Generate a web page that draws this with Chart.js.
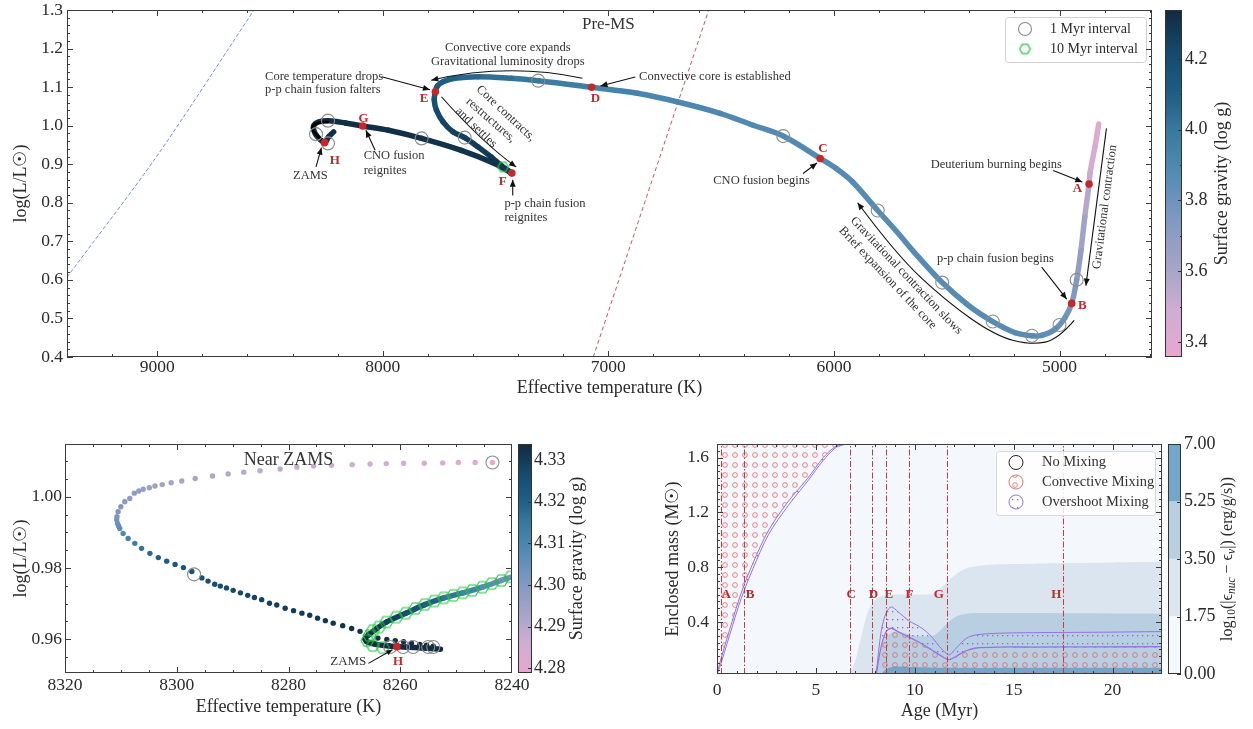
<!DOCTYPE html>
<html><head><meta charset="utf-8">
<script src="https://cdn.jsdelivr.net/npm/chart.js@4.4.1/dist/chart.umd.min.js"></script>
<style>
html,body{margin:0;padding:0;background:#fff;}
body{width:1253px;height:729px;position:relative;overflow:hidden;}
canvas{position:absolute;}
</style></head><body>
<canvas id="cTop" width="1160" height="400" style="left:0;top:0"></canvas>
<canvas id="cTopCb" width="88" height="400" style="left:1165px;top:0"></canvas>
<canvas id="cBl" width="530" height="329" style="left:0;top:400px"></canvas>
<canvas id="cBlCb" width="100" height="329" style="left:518px;top:400px"></canvas>
<canvas id="cBr" width="523" height="329" style="left:640px;top:400px"></canvas>
<canvas id="cBrCb" width="85" height="329" style="left:1168px;top:400px"></canvas>
<script>
// ================= DATA =================
// --- Top panel: pre-main-sequence track (Teff, log L, log g) ---
const trackTeff = [4826,4843,4865,4869,4888,4905,4924,4946,4976,5020,5079,5122,5196,5296,5402,5520,5637,5726,5806,5917,5990,6061,6225,6358,6505,6696,6872,7074,7311,7431,7578,7681,7733,7758,7767,7772,7762,7733,7689,7637,7578,7520,7476,7428,7505,7652,7828,7975,8089,8166,8240,8284,8306,8306,8292,8258,8240,8218];
const trackLogL = [1.004,0.945,0.876,0.8485,0.763,0.676,0.600,0.539,0.502,0.472,0.456,0.455,0.463,0.492,0.533,0.593,0.667,0.728,0.780,0.854,0.889,0.915,0.973,1.001,1.032,1.062,1.084,1.0995,1.1167,1.123,1.127,1.123,1.114,1.103,1.088,1.0665,1.040,1.010,0.984,0.969,0.945,0.919,0.897,0.877,0.902,0.936,0.967,0.988,0.999,1.007,1.0126,1.010,1.001,0.988,0.973,0.956,0.971,0.984];
const trackLogg = [3.36,3.42,3.50,3.53,3.60,3.66,3.72,3.76,3.80,3.83,3.85,3.86,3.87,3.87,3.87,3.87,3.87,3.87,3.87,3.87,3.88,3.88,3.88,3.88,3.89,3.90,3.92,3.95,3.99,4.02,4.05,4.08,4.10,4.12,4.14,4.17,4.20,4.23,4.25,4.26,4.27,4.28,4.29,4.30,4.30,4.31,4.31,4.32,4.32,4.33,4.33,4.33,4.33,4.33,4.33,4.33,4.32,4.31];
const myrTeff = [4924,5000,5122,5296,5520,5806,6225,7311,7637,7828,8243,8296,8243];
const myrLogL = [0.600,0.483,0.455,0.492,0.593,0.780,0.973,1.1167,0.969,0.967,1.013,0.978,0.954];
const tenMyrTeff = [7467];
const tenMyrLogL = [0.893];
const eventNames = ['A','B','C','D','E','F','G','H'];
const eventTeff = [4869,4946,6061,7074,7767,7428,8089,8258];
const eventLogL = [0.8485,0.539,0.915,1.0995,1.088,0.877,0.999,0.956];
const blueLineTeff = [9400,9004,8571];
const blueLineLogL = [0.607,0.919,1.300];
const redLineTeff = [7067,6811,6555];
const redLineLogL = [0.400,0.850,1.300];

// --- Bottom-left panel: near ZAMS model points ---
const zamsTeff = [8243.5,8246.6,8249.6,8252.4,8255.7,8259.4,8262.5,8265.4,8268.6,8272.3,8275.5,8278.5,8281.5,8285.1,8288.0,8290.8,8293.6,8296.7,8299.1,8301.0,8302.6,8303.9,8304.9,8306.0,8306.8,8307.6,
 8308.4,8309.3,8310.0,8310.5,8310.7,8310.75,8310.6,8310.4,8310.2,8309.6,8308.7,8307.5,8306.3,8304.8,8303.3,8301.8,8300.3,8298.8,8297.3,
 8295.5,8294.4,8293.2,8292.2,8291.1,8289.9,8288.6,8287.3,8286.1,8284.8,8283.4,8282.1,8280.6,8279.1,8277.6,8276.2,8274.8,8273.4,8272.0,8270.3,8268.7,8267.2,8265.7,
 8264.0,8262.4,8260.9,8259.4,8258.0,8256.5,8255.3,8254.1];
const zamsLogL = [1.0096,1.0096,1.0096,1.0095,1.0094,1.0094,1.0093,1.0092,1.0090,1.0088,1.0086,1.0083,1.0078,1.0073,1.0069,1.0064,1.0058,1.0051,1.0044,1.0039,1.0034,1.0030,1.0025,1.0021,1.0016,1.0010,
 0.9995,0.9986,0.9972,0.9958,0.9944,0.9935,0.9925,0.9918,0.9911,0.9897,0.9883,0.9869,0.9855,0.9841,0.9829,0.9819,0.9810,0.9801,0.9790,
 0.9772,0.9763,0.9754,0.9749,0.9744,0.9737,0.9730,0.9723,0.9717,0.9711,0.9701,0.9696,0.9687,0.9680,0.9673,0.9667,0.9659,0.9652,0.9645,0.9638,0.9630,0.9622,0.9613,
 0.9603,0.9599,0.9596,0.9593,0.9589,0.9585,0.9583,0.9580];
const zamsLogg = [4.2790,4.2798,4.2806,4.2814,4.2822,4.2830,4.2838,4.2846,4.2854,4.2862,4.2870,4.2878,4.2886,4.2893,4.2900,4.2907,4.2914,4.2921,4.2928,4.2935,4.2942,4.2949,4.2956,4.2963,4.2970,4.2977,
 4.2985,4.2993,4.3001,4.3009,4.3017,4.3024,4.3035,4.3048,4.3062,4.3085,4.3110,4.3135,4.3160,4.3180,4.3198,4.3212,4.3224,4.3234,4.3242,
 4.3248,4.3253,4.3258,4.3262,4.3266,4.3270,4.3274,4.3278,4.3282,4.3286,4.3290,4.3294,4.3297,4.3300,4.3303,4.3306,4.3309,4.3312,4.3315,4.3318,4.3320,4.3322,4.3324,
 4.3326,4.3328,4.3330,4.3332,4.3334,4.3335,4.3336,4.3337];
const msTeff = [8252.8,8256.0,8259.0,8262.0,8264.5,8266.0,8266.3,8265.6,8264.2,8262.5,8259.0,8255.6,8252.2,8248.8,8245.3,8241.9,8240.0];
const msLogL = [0.9572,0.9575,0.9578,0.9581,0.9586,0.9593,0.9602,0.9613,0.9630,0.9648,0.9673,0.9697,0.9716,0.9730,0.9746,0.9765,0.9775];
const msLogg = [4.3334,4.3335,4.3336,4.3337,4.3337,4.3336,4.3333,4.3328,4.3320,4.3305,4.3270,4.3225,4.3180,4.3140,4.3095,4.3050,4.3025];
const zMyrTeff = [8243.5,8296.9,8261.8,8259.5,8257.7,8255.0,8254.1];
const zMyrLogL = [1.0096,0.9782,0.9578,0.9578,0.9578,0.9578,0.9578];
const zHexTeff = [8265.9,8264.9,8263.1,8265.5,8264.9,8263.8,8262.5,8260.7,8259.0,8257.3,8255.6,8253.9,8252.2,8250.5,8248.8,8247.1,8245.3,8243.6,8241.9,8240.2];
const zHexLogL = [0.9596,0.9582,0.9576,0.9610,0.9624,0.9634,0.9648,0.9662,0.9673,0.9686,0.9697,0.9707,0.9716,0.9723,0.9730,0.9737,0.9746,0.9756,0.9765,0.9775];
const zamsHTeff = [8260.6];
const zamsHLogL = [0.9579];

// --- Bottom-right panel: Kippenhahn diagram ---
const lvl1Age = [6.71,7.0,7.3,7.7,8.1,8.5,9.5,10.5,10.9,11.4,12.0,12.6,13.2,14,16,18,20,22.5];
const lvl1Mass = [0.02,0.12,0.30,0.50,0.575,0.595,0.60,0.60,0.605,0.66,0.74,0.79,0.81,0.82,0.825,0.83,0.835,0.84];
const lvl2Age = [7.95,8.2,8.5,9.0,10.0,10.9,11.3,11.7,12.1,12.6,13.5,16,22.5];
const lvl2Mass = [0.02,0.15,0.28,0.33,0.30,0.30,0.34,0.40,0.44,0.46,0.465,0.465,0.46];
const lvl3Age = [8.3,8.6,9.0,10,12,16,22.5];
const lvl3Mass = [0.02,0.06,0.075,0.07,0.065,0.065,0.065];
const envAge = [0.0,0.14,0.63,1.22,1.82,2.61,3.6,4.59,5.37,5.97,6.3,6.56];
const envConvMass = [0.02,0.10,0.34,0.61,0.83,1.07,1.28,1.45,1.60,1.68,1.695,1.70];
const envOverMass = [0.02,0.07,0.30,0.57,0.79,1.04,1.25,1.43,1.58,1.67,1.69,1.70];
const coreAge = [8.05,8.3,8.56,8.81,9.15,9.69,10.24,10.58,10.92,11.25,11.59,11.76,12.1,12.6,13.1,14.3,16,19.3,22.5];
const coreConvMass = [0.02,0.22,0.33,0.354,0.33,0.29,0.25,0.22,0.19,0.16,0.13,0.125,0.15,0.19,0.21,0.217,0.217,0.218,0.22];
const coreOverMass = [0.02,0.33,0.47,0.51,0.475,0.41,0.366,0.33,0.28,0.22,0.17,0.16,0.21,0.28,0.306,0.318,0.322,0.325,0.33];
const kippEventAge = [0.22,1.36,6.71,7.84,8.57,9.70,11.61,17.51];

// --- ticks ---
const TOP_X_TICKS = [9000,8000,7000,6000,5000];
const TOP_Y_TICKS = [0.4,0.5,0.6,0.7,0.8,0.9,1.0,1.1,1.2,1.3];
const TOP_CB_TICKS = [3.4,3.6,3.8,4.0,4.2];
const BL_X_TICKS = [8320,8300,8280,8260,8240];
const BL_Y_TICKS = [0.96,0.98,1.00];
const BL_CB_TICKS = [4.28,4.29,4.30,4.31,4.32,4.33];
const BR_X_TICKS = [0,5,10,15,20];
const BR_Y_TICKS = [0.4,0.8,1.2,1.6];
const BR_CB_TICKS = [0,1.75,3.5,5.25,7];
const BR_LEVEL_COLORS = ['#f4f8fc','#dae5f0','#b8cfe2','#72a6ca'];

// ================= HELPERS =================
const SERIF = "'Liberation Serif','Times New Roman',serif";
const TXT = '#2a2a2a';
const CMAP = [[0,[233,167,207]],[0.14,[206,173,210]],[0.24,[171,165,201]],[0.35,[143,156,196]],[0.45,[109,147,189]],[0.55,[77,136,177]],[0.65,[58,122,158]],[0.75,[31,95,135]],[0.86,[22,77,114]],[1,[17,43,64]]];
function cmapRGB(t){ t=Math.max(0,Math.min(1,t)); for(let i=1;i<CMAP.length;i++){ if(t<=CMAP[i][0]){ const [t0,c0]=CMAP[i-1],[t1,c1]=CMAP[i]; const f=(t-t0)/(t1-t0); return c0.map((v,k)=>Math.round(v+(c1[k]-v)*f)); } } return CMAP[CMAP.length-1][1]; }
const rgb = c => `rgb(${c[0]},${c[1]},${c[2]})`;
const colorFor = (v,lo,hi) => rgb(cmapRGB((v-lo)/(hi-lo)));
const pts = (xs,ys) => xs.map((x,i)=>({x, y:ys[i]}));
const TOP_G = [3.358,4.338];
const BL_G = [4.2789,4.3338];

function hexImage(size,color,lw){ const c=document.createElement('canvas'); c.width=c.height=size; const g=c.getContext('2d'); g.strokeStyle=color; g.lineWidth=lw; g.beginPath(); const r=size/2-lw; for(let k=0;k<6;k++){ const a=Math.PI/3*k; const x=size/2+r*Math.cos(a), y=size/2+r*Math.sin(a); if(k) g.lineTo(x,y); else g.moveTo(x,y);} g.closePath(); g.stroke(); return c; }
const HEX_TOP = hexImage(13,'#22c23e',1.2);
const HEX_BL = hexImage(15,'#22c23e',1.1);

function drawText(ctx,s,x,y,o={}){ ctx.save(); ctx.translate(x,y); if(o.rot) ctx.rotate(o.rot*Math.PI/180); ctx.font=`${o.italic?'italic ':''}${o.bold?'bold ':''}${o.size||12.5}px ${SERIF}`; ctx.fillStyle=o.color||TXT; ctx.textAlign=o.align||'center'; ctx.textBaseline='middle'; ctx.fillText(s,0,0); ctx.restore(); }
function drawArrow(ctx,p,o={}){ ctx.save(); const col=o.color||'#111'; ctx.strokeStyle=col; ctx.fillStyle=col; ctx.lineWidth=o.lw||1.1; const n=p.length; ctx.beginPath(); ctx.moveTo(p[0][0],p[0][1]);
  if(n===2) ctx.lineTo(p[1][0],p[1][1]);
  else if(n===3) ctx.quadraticCurveTo(p[1][0],p[1][1],p[2][0],p[2][1]);
  else { for(let i=1;i<n-1;i++){ const last=i===n-2; const ex=last?p[n-1][0]:(p[i][0]+p[i+1][0])/2, ey=last?p[n-1][1]:(p[i][1]+p[i+1][1])/2; ctx.quadraticCurveTo(p[i][0],p[i][1],ex,ey);} }
  ctx.stroke();
  const [ex,ey]=p[n-1],[qx,qy]=p[n-2]; const a=Math.atan2(ey-qy,ex-qx); const L=o.head||7, W=o.hw||3;
  ctx.beginPath(); ctx.moveTo(ex,ey); ctx.lineTo(ex-L*Math.cos(a)+W*Math.sin(a), ey-L*Math.sin(a)-W*Math.cos(a)); ctx.lineTo(ex-L*Math.cos(a)-W*Math.sin(a), ey-L*Math.sin(a)+W*Math.cos(a)); ctx.closePath(); ctx.fill(); ctx.restore(); }
function roundBox(ctx,x,y,w,h,r){ ctx.beginPath(); ctx.moveTo(x+r,y); ctx.lineTo(x+w-r,y); ctx.quadraticCurveTo(x+w,y,x+w,y+r); ctx.lineTo(x+w,y+h-r); ctx.quadraticCurveTo(x+w,y+h,x+w-r,y+h); ctx.lineTo(x+r,y+h); ctx.quadraticCurveTo(x,y+h,x,y+h-r); ctx.lineTo(x,y+r); ctx.quadraticCurveTo(x,y,x+r,y); ctx.closePath(); }
function richWidth(ctx,parts){ let w=0; parts.forEach(q=>{ ctx.font=`${q.italic?'italic ':''}${q.size}px ${SERIF}`; w+=ctx.measureText(q.t).width; }); return w; }
function drawRich(ctx,parts,x,y){ const w=richWidth(ctx,parts); let cx=x-w/2; ctx.textAlign='left'; ctx.textBaseline='middle'; parts.forEach(q=>{ ctx.font=`${q.italic?'italic ':''}${q.size}px ${SERIF}`; ctx.fillText(q.t,cx,y+(q.dy||0)); cx+=ctx.measureText(q.t).width; }); }

function minorVals(min,max,step,majors){ const out=[]; const lo=Math.min(min,max), hi=Math.max(min,max); for(let v=Math.ceil(lo/step-1e-9)*step; v<=hi+1e-9; v+=step){ if(!majors.some(m=>Math.abs(m-v)<step*1e-3)) out.push(v);} return out; }

const framePlugin = { id:'frame', afterDraw(chart,args,o){
  const {ctx, chartArea:a, scales:{x,y}} = chart; ctx.save(); ctx.strokeStyle='#3c3c3c'; ctx.lineWidth=1;
  const ln=(x1,y1,x2,y2)=>{ctx.beginPath();ctx.moveTo(x1,y1);ctx.lineTo(x2,y2);ctx.stroke();};
  const xs=(vals,len)=>vals.forEach(v=>{ const p=Math.round(x.getPixelForValue(v))+0.5; if(p<a.left||p>a.right) return; ln(p,a.bottom,p,a.bottom-len); ln(p,a.top,p,a.top+len); });
  const ys=(vals,len)=>vals.forEach(v=>{ const p=Math.round(y.getPixelForValue(v))+0.5; if(p<a.top-0.5||p>a.bottom+0.5) return; ln(a.left,p,a.left+len,p); ln(a.right,p,a.right-len,p); });
  xs(o.xMajor,6); xs(minorVals(x.min,x.max,o.xStep,o.xMajor),3);
  ys(o.yMajor,6); ys(minorVals(y.min,y.max,o.yStep,o.yMajor),3);
  ctx.strokeRect(Math.round(a.left)+0.5,Math.round(a.top)+0.5,Math.round(a.right-a.left)-1,Math.round(a.bottom-a.top)-1);
  ctx.restore(); } };

function xAxis(o){ return {type:'linear', position:'bottom', min:o.min, max:o.max, reverse:!!o.reverse,
  afterBuildTicks:s=>{ s.ticks=o.ticks.map(v=>({value:v})); }, afterFit:s=>{ s.height=o.h; s.paddingLeft=0; s.paddingRight=0; },
  grid:{display:false, drawTicks:false}, border:{display:false},
  ticks:{autoSkip:false, maxRotation:0, padding:o.pad, color:TXT, font:{family:SERIF,size:17.5}, callback:o.fmt},
  title:{display:true, text:o.title, color:TXT, font:{family:SERIF,size:18}, padding:{top:0,bottom:o.tpad}} }; }
function yAxis(o){ return {type:'linear', position:'left', min:o.min, max:o.max,
  afterBuildTicks:s=>{ s.ticks=o.ticks.map(v=>({value:v})); }, afterFit:s=>{ s.width=o.w; s.paddingTop=0; s.paddingBottom=0; },
  grid:{display:false, drawTicks:false}, border:{display:false},
  ticks:{autoSkip:false, padding:o.pad, color:TXT, font:{family:SERIF,size:17.5}, callback:o.fmt},
  title:{display:true, text:o.title, color:TXT, font:{family:SERIF,size:18}, padding:{top:o.tpad,bottom:0}} }; }
const BASE = {responsive:false, animation:false, devicePixelRatio:1, events:[]};

// ---- colorbar charts ----
const cbarPlugin = { id:'cbar', afterDraw(chart,args,o){
  const {ctx, chartArea:a, scales:{y}} = chart; ctx.save(); ctx.strokeStyle='#333'; ctx.lineWidth=1;
  ctx.strokeRect(Math.round(a.left)+0.5,Math.round(a.top)+0.5,Math.round(a.right-a.left)-1,Math.round(a.bottom-a.top)-1);
  const tk=(vals,len)=>vals.forEach(v=>{ const p=Math.round(y.getPixelForValue(v))+0.5; ctx.beginPath(); ctx.moveTo(a.right,p); ctx.lineTo(a.right-len,p); ctx.stroke(); });
  tk(o.major,4); if(o.step) tk(minorVals(y.min,y.max,o.step,o.major),2);
  ctx.fillStyle=TXT; ctx.translate(o.titleX,(a.top+a.bottom)/2); ctx.rotate(-Math.PI/2);
  drawRich(ctx,o.title,0,0); ctx.restore(); } };
function colorbar(id,o){ return new Chart(document.getElementById(id),{ type:'bar', data:{labels:[''], datasets:o.datasets},
  options:{...BASE, layout:{padding:{top:o.pt,bottom:o.pb,left:0,right:0}},
   plugins:{legend:{display:false},tooltip:{enabled:false},cbar:{major:o.ticks,step:o.step,title:o.title,titleX:o.titleX}},
   scales:{x:{display:false}, y:{position:'right', min:o.min, max:o.max, afterFit:s=>{s.width=o.w; s.paddingTop=0; s.paddingBottom=0;}, afterBuildTicks:s=>{ s.ticks=o.ticks.map(v=>({value:v})); },
     grid:{display:false,drawTicks:false}, border:{display:false}, ticks:{padding:o.lp, color:TXT, font:{family:SERIF,size:18}, callback:o.fmt}}}},
  plugins:[cbarPlugin] }); }
const gradientBar = (min,max) => ({ data:[[min,max]], barPercentage:1, categoryPercentage:1, borderWidth:0, grouped:false,
  backgroundColor:(c)=>{ const ch=c.chart, a=ch.chartArea; if(!a) return 'transparent'; const g=ch.ctx.createLinearGradient(0,a.bottom,0,a.top); for(let i=0;i<=30;i++) g.addColorStop(i/30, rgb(cmapRGB(i/30))); return g; } });

// ================= TOP PANEL =================
const TOP_NOTES = [
 {s:'Pre-MS', T:7000, L:1.262, size:17},
 {s:'Convective core expands', T:7446, L:1.202},
 {s:'Gravitational luminosity drops', T:7446, L:1.166},
 {s:'Core temperature drops', T:8522, L:1.128, align:'left'},
 {s:'p-p chain fusion falters', T:8522, L:1.092, align:'left'},
 {s:'Convective core is established', T:6864, L:1.128, align:'left'},
 {s:'CNO fusion begins', T:6321, L:0.858},
 {s:'Deuterium burning begins', T:5280, L:0.900},
 {s:'p-p chain fusion begins', T:5284, L:0.655},
 {s:'CNO fusion', T:8085, L:0.921, align:'left'},
 {s:'reignites', T:8085, L:0.882, align:'left'},
 {s:'p-p chain fusion', T:7461, L:0.797, align:'left'},
 {s:'reignites', T:7461, L:0.761, align:'left'},
 {s:'ZAMS', T:8321, L:0.869},
 {s:'Gravitational contraction', T:4799, L:0.789, rot:-82.5},
 {s:'Gravitational contraction slows', T:5679, L:0.611, rot:46.5},
 {s:'Brief expansion of the core', T:5762, L:0.605, rot:46.5},
 {s:'Core contracts,', T:7455, L:1.032, rot:43},
 {s:'restructures,', T:7521, L:1.014, rot:41},
 {s:'and settles', T:7586, L:0.995, rot:44}
];
const TOP_ARROWS = [
 [[7115,1.123],[7445,1.164],[7785,1.118]],
 [[8005,1.127],[7791,1.093]],
 [[6881,1.126],[7035,1.103]],
 [[6137,0.876],[6075,0.903]],
 [[5028,0.884],[4899,0.854]],
 [[5079,0.633],[4968,0.550]],
 [[4792,0.993],[4883,0.585]],
 [[7740,1.075],[7563,0.958],[7409,0.893]],
 [[8034,0.936],[8075,0.988]],
 [[7424,0.819],[7424,0.860]],
 [[8296,0.893],[8272,0.943]],
 [[4935,0.495],[5006,0.446],[5123,0.431],[5285,0.455],[5505,0.546],[5726,0.667],[5895,0.800]]
];
const TOP_LETTER_POS = [[4920,0.837],[4899,0.534],[6049,0.940],[7057,1.071],[7817,1.071],[7468,0.854],[8085,1.019],[8213,0.910]];

const topNotesPlugin = { id:'topNotes', afterDatasetsDraw(chart){
  const {ctx, scales:{x,y}, chartArea:a} = chart; const P=(T,L)=>[x.getPixelForValue(T),y.getPixelForValue(L)];
  TOP_ARROWS.forEach(ar=>drawArrow(ctx, ar.map(q=>P(q[0],q[1])), {head:7,hw:3}));
  TOP_NOTES.forEach(n=>{ const [px,py]=P(n.T,n.L); drawText(ctx,n.s,px,py,{size:n.size||12.5,align:n.align,rot:n.rot,color:'#333'}); });
  TOP_LETTER_POS.forEach((q,i)=>{ const [px,py]=P(q[0],q[1]); drawText(ctx,eventNames[i],px,py,{size:13,bold:true,color:'#c0282a'}); });
  const bx=a.right-147, by=a.top+7, bw=141, bh=45;
  ctx.save(); roundBox(ctx,bx+0.5,by+0.5,bw,bh,3); ctx.fillStyle='rgba(255,255,255,0.9)'; ctx.fill(); ctx.strokeStyle='#d0d0d0'; ctx.lineWidth=1; ctx.stroke();
  ctx.beginPath(); ctx.arc(bx+20,by+12,6.5,0,Math.PI*2); ctx.strokeStyle='#8c8c8c'; ctx.lineWidth=1.1; ctx.stroke();
  ctx.drawImage(HEX_TOP,bx+20-HEX_TOP.width/2,by+32-HEX_TOP.height/2); ctx.restore();
  drawText(ctx,'1 Myr interval',bx+45,by+12,{size:14,align:'left'});
  drawText(ctx,'10 Myr interval',bx+45,by+32,{size:14,align:'left'});
} };

new Chart(document.getElementById('cTop'), { type:'line',
 data:{datasets:[
  {data:pts(blueLineTeff,blueLineLogL), borderColor:'#6f8ff0', borderWidth:1, borderDash:[4,2], pointRadius:0, tension:0.3, order:7},
  {data:pts(redLineTeff,redLineLogL), borderColor:'#d45050', borderWidth:1, borderDash:[4,3], pointRadius:0, tension:0, order:7},
  {data:pts(trackTeff,trackLogL), borderWidth:5.5, tension:0.35, pointRadius:0, borderCapStyle:'round', borderJoinStyle:'round', borderColor:'#3a7a9e',
    segment:{borderColor:c=>colorFor((trackLogg[c.p0DataIndex]+trackLogg[c.p1DataIndex])/2, TOP_G[0], TOP_G[1])}, order:6},
  {data:pts(zamsTeff,zamsLogL), showLine:false, pointRadius:1.3, pointBackgroundColor:'#000', pointBorderWidth:0, order:5},
  {data:pts(myrTeff,myrLogL), showLine:false, pointRadius:6.5, pointBorderColor:'#8c8c8c', pointBackgroundColor:'rgba(0,0,0,0)', pointBorderWidth:1.1, order:4},
  {data:pts(tenMyrTeff,tenMyrLogL), showLine:false, pointStyle:HEX_TOP, pointRadius:7, order:3},
  {data:pts(eventTeff,eventLogL), showLine:false, pointRadius:3.8, pointBackgroundColor:'#c62828', pointBorderWidth:0, order:2}
 ]},
 options:{...BASE, layout:{padding:{top:10,right:1,left:0,bottom:0}},
  plugins:{legend:{display:false},tooltip:{enabled:false}, frame:{xMajor:TOP_X_TICKS,xStep:200,yMajor:TOP_Y_TICKS,yStep:0.02}},
  scales:{ x:xAxis({min:4590,max:9400,reverse:true,ticks:TOP_X_TICKS,h:43,pad:0,tpad:1,title:'Effective temperature (K)',fmt:v=>String(v)}),
           y:yAxis({min:0.4,max:1.3,ticks:TOP_Y_TICKS,w:67,pad:4,tpad:10,title:'log(L/L\u2609)',fmt:v=>v.toFixed(1)}) } },
 plugins:[framePlugin, topNotesPlugin] });

colorbar('cTopCb',{min:TOP_G[0],max:TOP_G[1],ticks:TOP_CB_TICKS,step:0.1,w:71,pt:10,pb:43,lp:3,fmt:v=>v.toFixed(1),titleX:57,
  title:[{t:'Surface gravity (log g)',size:18}], datasets:[gradientBar(TOP_G[0],TOP_G[1])]});

// ================= BOTTOM-LEFT PANEL =================
const blNotesPlugin = { id:'blNotes', afterDatasetsDraw(chart){
  const {ctx, scales:{x,y}} = chart; const P=(T,L)=>[x.getPixelForValue(T),y.getPixelForValue(L)];
  let [px,py]=P(8280,1.0101); drawText(ctx,'Near ZAMS',px,py,{size:18,color:'#333'});
  drawArrow(ctx,[P(8265.7,0.9532),P(8261.4,0.9570)],{head:6,hw:2.6});
  [px,py]=P(8269.3,0.9537); drawText(ctx,'ZAMS',px,py,{size:13,color:'#333'});
  [px,py]=P(8260.4,0.9537); drawText(ctx,'H',px,py,{size:13,bold:true,color:'#c0282a'});
} };
new Chart(document.getElementById('cBl'), { type:'line',
 data:{datasets:[
  {data:pts(zamsTeff,zamsLogL), showLine:false, pointRadius:2.7, pointBorderWidth:0, pointBackgroundColor:zamsLogg.map(g=>colorFor(g,BL_G[0],BL_G[1])), order:6},
  {data:pts(msTeff,msLogL), borderWidth:5.5, tension:0.3, pointRadius:0, borderCapStyle:'round', borderJoinStyle:'round', borderColor:'#123a55',
    segment:{borderColor:c=>colorFor((msLogg[c.p0DataIndex]+msLogg[c.p1DataIndex])/2, BL_G[0], BL_G[1])}, order:5},
  {data:pts(zHexTeff,zHexLogL), showLine:false, pointStyle:HEX_BL, pointRadius:7, order:4},
  {data:pts(zMyrTeff,zMyrLogL), showLine:false, pointRadius:6.5, pointBorderColor:'#8c8c8c', pointBackgroundColor:'rgba(0,0,0,0)', pointBorderWidth:1.1, order:3},
  {data:pts(zamsHTeff,zamsHLogL), showLine:false, pointRadius:3.8, pointBackgroundColor:'#c62828', pointBorderWidth:0, order:2}
 ]},
 options:{...BASE, layout:{padding:{top:44,right:18,left:0,bottom:0}},
  plugins:{legend:{display:false},tooltip:{enabled:false}, frame:{xMajor:BL_X_TICKS,xStep:5,yMajor:BL_Y_TICKS,yStep:0.005}},
  scales:{ x:xAxis({min:8240,max:8320,reverse:true,ticks:BL_X_TICKS,h:56,pad:1.5,tpad:11,title:'Effective temperature (K)',fmt:v=>String(v)}),
           y:yAxis({min:0.9505,max:1.0148,ticks:BL_Y_TICKS,w:65,pad:3,tpad:10,title:'log(L/L\u2609)',fmt:v=>v.toFixed(2)}) } },
 plugins:[framePlugin, blNotesPlugin] });

colorbar('cBlCb',{min:BL_G[0],max:BL_G[1],ticks:BL_CB_TICKS,step:0,w:86,pt:44,pb:56,lp:2,fmt:v=>v.toFixed(2),titleX:59,
  title:[{t:'Surface gravity (log g)',size:18}], datasets:[gradientBar(BL_G[0],BL_G[1])]});

// ================= BOTTOM-RIGHT PANEL (Kippenhahn) =================
const brCtx = document.getElementById('cBr').getContext('2d');
function makeConvPattern(){ const c=document.createElement('canvas'); c.width=10; c.height=10; const g=c.getContext('2d'); g.strokeStyle='rgba(228,98,98,0.85)'; g.lineWidth=0.9; g.beginPath(); g.arc(5,5,2.4,0,Math.PI*2); g.stroke(); return brCtx.createPattern(c,'repeat'); }
function makeOverPattern(){ const c=document.createElement('canvas'); c.width=5; c.height=8; const g=c.getContext('2d'); g.fillStyle='rgba(130,100,225,0.95)'; g.fillRect(2,3,1.3,1.3); return brCtx.createPattern(c,'repeat'); }
const CONV_PAT = makeConvPattern(), OVER_PAT = makeOverPattern();
const PURPLE = '#9474e0';

const kippPlugin = { id:'kipp',
 beforeDatasetsDraw(chart){ const {ctx, chartArea:a}=chart; ctx.save(); ctx.fillStyle=BR_LEVEL_COLORS[0]; ctx.fillRect(a.left,a.top,a.right-a.left,a.bottom-a.top); ctx.restore(); },
 afterDatasetsDraw(chart){ const {ctx, chartArea:a, scales:{x,y}}=chart;
  ctx.save(); ctx.strokeStyle='#d03a3a'; ctx.lineWidth=1; ctx.setLineDash([6,2,1.5,2]);
  kippEventAge.forEach(t=>{ const p=Math.round(x.getPixelForValue(t))+0.5; ctx.beginPath(); ctx.moveTo(p,a.bottom); ctx.lineTo(p,a.top); ctx.stroke(); });
  ctx.restore();
  const labelAge=[0.47,1.67,6.79,7.91,8.69,9.73,11.22,17.15];
  labelAge.forEach((t,i)=>drawText(ctx,eventNames[i],x.getPixelForValue(t),y.getPixelForValue(0.60),{size:13,bold:true,color:'#c0282a'}));
  const bx=a.right-166, by=a.top+7, bw=159, bh=64;
  ctx.save(); roundBox(ctx,bx+0.5,by+0.5,bw,bh,3); ctx.fillStyle='rgba(255,255,255,0.85)'; ctx.fill(); ctx.strokeStyle='#d8d8d8'; ctx.lineWidth=1; ctx.stroke();
  const mk=(cy,fill,stroke)=>{ ctx.beginPath(); ctx.arc(bx+20,cy,7,0,Math.PI*2); if(fill){ctx.fillStyle=fill; ctx.fill();} ctx.strokeStyle=stroke; ctx.lineWidth=1; ctx.stroke(); };
  mk(by+11.5,null,'#222'); mk(by+31,CONV_PAT,'rgba(228,98,98,0.9)'); mk(by+51,OVER_PAT,PURPLE);
  ctx.restore();
  drawText(ctx,'No Mixing',bx+46,by+11.5,{size:14.5,align:'left',color:'#333'});
  drawText(ctx,'Convective Mixing',bx+46,by+31,{size:14.5,align:'left',color:'#333'});
  drawText(ctx,'Overshoot Mixing',bx+46,by+51,{size:14.5,align:'left',color:'#333'});
 } };

new Chart(document.getElementById('cBr'), { type:'line',
 data:{datasets:[
  {data:pts(lvl1Age,lvl1Mass), fill:'start', backgroundColor:BR_LEVEL_COLORS[1], borderWidth:0, pointRadius:0, tension:0.3, order:10},
  {data:pts(lvl2Age,lvl2Mass), fill:'start', backgroundColor:BR_LEVEL_COLORS[2], borderWidth:0, pointRadius:0, tension:0.3, order:9},
  {data:pts(lvl3Age,lvl3Mass), fill:'start', backgroundColor:BR_LEVEL_COLORS[3], borderWidth:0, pointRadius:0, tension:0.3, order:8},
  {data:pts(envAge,envConvMass), fill:'end', backgroundColor:CONV_PAT, borderColor:PURPLE, borderWidth:1, pointRadius:0, tension:0.3, order:6},
  {data:pts(envAge,envOverMass), fill:3, backgroundColor:OVER_PAT, borderColor:PURPLE, borderWidth:1, pointRadius:0, tension:0.3, order:5},
  {data:pts(coreAge,coreConvMass), fill:'start', backgroundColor:CONV_PAT, borderColor:PURPLE, borderWidth:1.3, pointRadius:0, tension:0.3, order:6},
  {data:pts(coreAge,coreOverMass), fill:5, backgroundColor:OVER_PAT, borderColor:PURPLE, borderWidth:1, pointRadius:0, tension:0.3, order:5}
 ]},
 options:{...BASE, layout:{padding:{top:44,right:1,left:0,bottom:0}},
  plugins:{legend:{display:false},tooltip:{enabled:false}, filler:{propagate:false}, frame:{xMajor:BR_X_TICKS,xStep:1,yMajor:BR_Y_TICKS,yStep:0.05}},
  scales:{ x:xAxis({min:0,max:22.5,ticks:BR_X_TICKS,h:55,pad:6,tpad:6.5,title:'Age (Myr)',fmt:v=>String(v)}),
           y:yAxis({min:0.02,max:1.70,ticks:BR_Y_TICKS,w:77,pad:8,tpad:22,title:'Enclosed mass (M\u2609)',fmt:v=>v.toFixed(1)}) } },
 plugins:[kippPlugin, framePlugin] });

const levelBars = BR_LEVEL_COLORS.map((c,i)=>({ data:[[BR_CB_TICKS[i],BR_CB_TICKS[i+1]]], backgroundColor:c, barPercentage:1, categoryPercentage:1, borderWidth:0, grouped:false }));
colorbar('cBrCb',{min:0,max:7,ticks:BR_CB_TICKS,step:0,w:72,pt:44,pb:55,lp:3,fmt:v=>v.toFixed(2),titleX:60,
  title:[{t:'log',size:16},{t:'10',size:11.5,dy:4},{t:'(|\u03F5',size:16},{t:'nuc',size:11.5,dy:4,italic:true},{t:' \u2212 \u03F5',size:16},{t:'\u03BD',size:11.5,dy:4,italic:true},{t:'|) (erg/g/s))',size:16}],
  datasets:levelBars});
</script>
</body></html>
